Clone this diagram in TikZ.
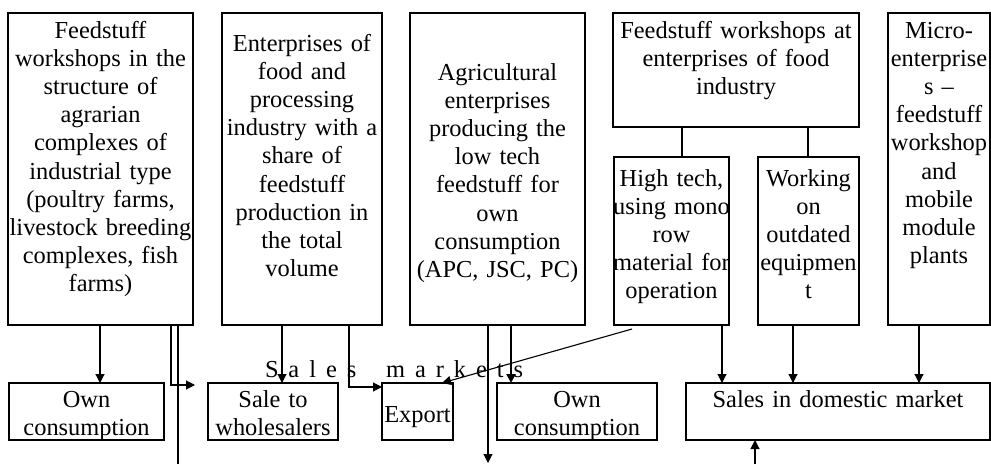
\documentclass[tikz,border=0pt]{standalone}
\usepackage{fontspec}
\setmainfont{Liberation Serif}
\usetikzlibrary{arrows.meta}
\begin{document}
\begin{tikzpicture}[x=1pt,y=-1pt,
  box/.style={draw, line width=1.2pt, inner sep=0pt, outer sep=0pt, anchor=north west},
  txt/.style={inner sep=0pt, outer sep=0pt, align=center, anchor=base,
    font=\fontsize{24.4}{28.2}\selectfont},
  conn/.style={line width=1.1pt},
  arr/.style={conn, -{Triangle[length=9pt,width=9pt]}},
  thickseg/.style={line width=2.6pt},
]
\useasboundingbox (0,0) rectangle (991,464);

% upper boxes
\node[box, minimum width=185pt, minimum height=312pt] (b1) at (8,13) {};
\node[box, minimum width=160pt, minimum height=312pt] (b2) at (222,13) {};
\node[box, minimum width=175pt, minimum height=312pt] (b3) at (410,13) {};
\node[box, minimum width=246pt, minimum height=114pt] (b4) at (613,13) {};
\node[box, minimum width=115pt, minimum height=168pt] (b5) at (614,157) {};
\node[box, minimum width=101pt, minimum height=168pt] (b6) at (758,157) {};
\node[box, minimum width=102pt, minimum height=312pt] (b7) at (888,13) {};

% lower boxes
\node[box, minimum width=155pt, minimum height=57pt] (o1) at (9,383) {};
\node[box, minimum width=130pt, minimum height=57pt] (ws) at (208,383) {};
\node[box, minimum width=71pt, minimum height=57pt] (ex) at (382,383) {};
\node[box, minimum width=160pt, minimum height=57pt] (o2) at (497,383) {};
\node[box, minimum width=304pt, minimum height=57pt] (dm) at (686,383) {};

% texts
\node[txt, text width=190pt] (t1) at (100.5,38) {Feedstuff\\workshops in the\\structure of\\agrarian\\complexes of\\industrial type\\(poultry farms,\\livestock breeding\\complexes, fish\\farms)};
\node[txt, text width=170pt] (t2) at (302,51) {Enterprises of\\food and\\processing\\industry with a\\share of\\feedstuff\\production in\\the total\\volume};
\node[txt, text width=175pt] (t3) at (497.5,80) {Agricultural\\enterprises\\producing the\\low tech\\feedstuff for\\own\\consumption\\(APC, JSC, PC)};
\node[txt, text width=246pt] (t4) at (736,38) {Feedstuff workshops at\\enterprises of food\\industry};
\begin{scope}
\clip (b5.north west) rectangle (b5.south east);
\node[txt, text width=125pt] (t5) at (671.5,186) {High tech,\\using mono\\row\\material for\\operation};
\end{scope}
\begin{scope}
\clip (b6.north west) rectangle (b6.south east);
\node[txt, text width=110pt] (t6) at (808.5,186) {Working\\on\\outdated\\equipmen\\t};
\end{scope}
\begin{scope}
\clip (b7.north west) rectangle (b7.south east);
\node[txt, text width=110pt] (t7) at (939,38) {Micro-\\enterprise\\s –\\feedstuff\\workshop\\and\\mobile\\module\\plants};
\end{scope}

\node[txt, text width=155pt] (o1t) at (86.5,407) {Own\\consumption};
\node[txt, text width=130pt] (wst) at (273,407) {Sale to\\wholesalers};
\node[txt, text width=71pt] (ext) at (417.5,422) {Export};
\node[txt, text width=160pt] (o2t) at (577,407) {Own\\consumption};
\node[txt, text width=304pt] (dmt) at (838,407) {Sales in domestic market};

\node[txt, anchor=base west] (sm) at (265,377)
  {\makebox[258pt][s]{S\hfill a\hfill l\hfill e\hfill s\hfill\hfill\hfill m\hfill a\hfill r\hfill k\hfill e\hfill t\hfill s}};

% free ends
\coordinate (e1) at (195,385);
\coordinate (e2) at (178,464);
\coordinate (e3) at (488,463);
\coordinate (e4) at (755,464);

% connectors
\draw[conn] ([xshift=69pt]b4.south west) -- ([xshift=68pt]b5.north west);
\draw[conn] ([xshift=195pt]b4.south west) -- ([xshift=50pt]b6.north west);

\draw[arr] ([xshift=92pt]b1.south west) -- ([xshift=91pt]o1.north west);
\draw[thickseg] ([xshift=129pt]b1.south west) -- ([xshift=160pt]b1.south west);
\draw[arr] ([xshift=163pt]b1.south west) |- (e1);
\draw[conn] (b1.south west -| e2) -- (e2);

\draw[arr] ([xshift=60pt]b2.south west) -- ([xshift=74pt]ws.north west);
\draw[thickseg] ([xshift=96pt]b2.south west) -- ([xshift=126pt]b2.south west);
\draw[arr] ([xshift=127pt]b2.south west) |- ([yshift=-4pt]ex.north west);

\draw[arr] (b3.south west -| e3) -- (e3);
\draw[arr, line width=2pt] ([xshift=101pt]b3.south west) -- ([xshift=14pt]o2.north west);

\draw[arr] ([xshift=18pt,yshift=-4pt]b5.south west) -- ([xshift=-11pt]ex.north east);
\draw[arr] ([xshift=108pt]b5.south west) -- ([xshift=36pt]dm.north west);
\draw[arr] ([xshift=35pt]b6.south west) -- ([xshift=107pt]dm.north west);
\draw[arr] ([xshift=31pt]b7.south west) -- ([xshift=233pt]dm.north west);
\draw[arr] (e4) -- (dm.south west -| e4);
\end{tikzpicture}
\end{document}
